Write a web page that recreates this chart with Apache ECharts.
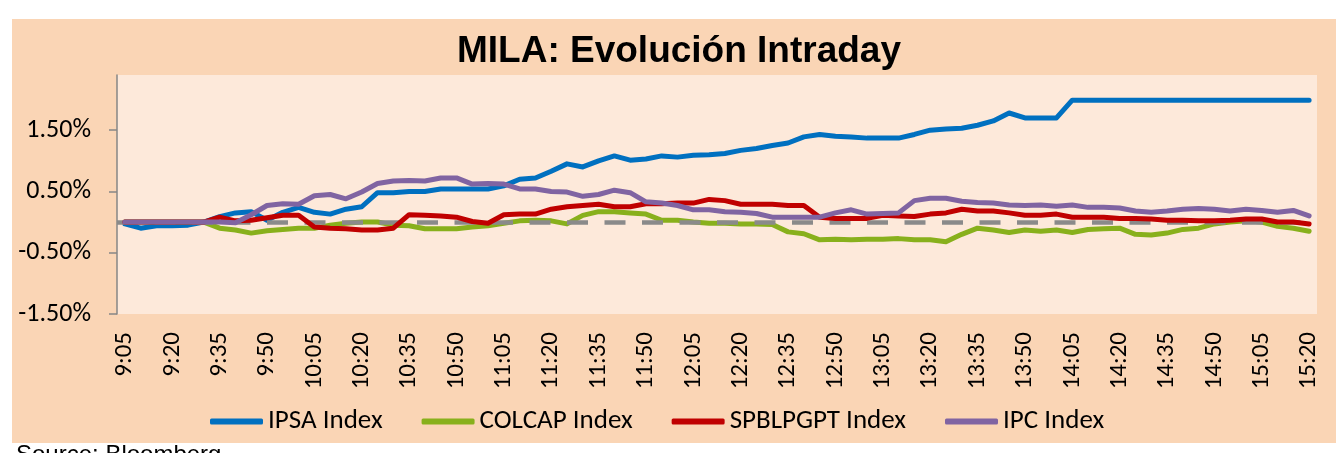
<!DOCTYPE html>
<html><head><meta charset="utf-8">
<script src="https://cdn.jsdelivr.net/npm/echarts@6/dist/echarts.min.js"></script>
<style>html,body{margin:0;padding:0;background:#fff}#c{width:1336px;height:453px}</style>
</head><body><div id="c"></div>
<script>
const categories = ["9:05","9:10","9:15","9:20","9:25","9:30","9:35","9:40","9:45","9:50","9:55",
"10:00","10:05","10:10","10:15","10:20","10:25","10:30","10:35","10:40","10:45","10:50","10:55",
"11:00","11:05","11:10","11:15","11:20","11:25","11:30","11:35","11:40","11:45","11:50","11:55",
"12:00","12:05","12:10","12:15","12:20","12:25","12:30","12:35","12:40","12:45","12:50","12:55",
"13:00","13:05","13:10","13:15","13:20","13:25","13:30","13:35","13:40","13:45","13:50","13:55",
"14:00","14:05","14:10","14:15","14:20","14:25","14:30","14:35","14:40","14:45","14:50","14:55",
"15:00","15:05","15:10","15:15","15:20"];
const ipsa = [-0.03,-0.1,-0.06,-0.06,-0.05,0,0.09,0.15,0.17,0.03,0.16,0.24,0.16,0.13,0.21,0.25,0.48,0.48,0.5,0.5,0.54,0.54,0.54,0.54,0.59,0.7,0.72,0.83,0.95,0.9,1.0,1.08,1.01,1.03,1.08,1.06,1.09,1.1,1.12,1.17,1.2,1.25,1.29,1.39,1.43,1.4,1.39,1.37,1.37,1.37,1.43,1.5,1.52,1.53,1.58,1.65,1.78,1.7,1.7,1.7,1.99,1.99,1.99,1.99,1.99,1.99,1.99,1.99,1.99,1.99,1.99,1.99,1.99,1.99,1.99,1.99];
const colcap = [0,0,0,0,0,0,-0.1,-0.13,-0.18,-0.14,-0.12,-0.1,-0.1,-0.05,-0.02,0,0,-0.05,-0.06,-0.11,-0.11,-0.11,-0.08,-0.06,-0.02,0.02,0.03,0.02,-0.03,0.11,0.17,0.17,0.15,0.13,0.03,0.03,0,-0.02,-0.02,-0.03,-0.03,-0.04,-0.16,-0.19,-0.29,-0.28,-0.29,-0.28,-0.28,-0.27,-0.29,-0.29,-0.32,-0.2,-0.1,-0.13,-0.17,-0.13,-0.15,-0.13,-0.17,-0.12,-0.11,-0.1,-0.2,-0.21,-0.18,-0.12,-0.1,-0.03,0,0.02,0,-0.07,-0.1,-0.15];
const spblpgpt = [0,0,0,0,0,0,0.08,0.02,0.03,0.07,0.11,0.11,-0.08,-0.1,-0.11,-0.13,-0.13,-0.1,0.12,0.11,0.1,0.08,0.01,-0.02,0.12,0.13,0.13,0.21,0.25,0.27,0.29,0.25,0.25,0.3,0.3,0.31,0.31,0.37,0.35,0.29,0.29,0.29,0.27,0.27,0.08,0.06,0.06,0.06,0.11,0.1,0.09,0.13,0.15,0.21,0.18,0.18,0.15,0.11,0.11,0.13,0.08,0.08,0.08,0.06,0.06,0.05,0.03,0.03,0.02,0.02,0.03,0.05,0.05,0,0,-0.03];
const ipc = [0,0,0,0,0,0,0,-0.01,0.12,0.27,0.3,0.29,0.43,0.45,0.38,0.49,0.63,0.67,0.68,0.67,0.72,0.72,0.62,0.63,0.62,0.54,0.54,0.5,0.49,0.42,0.45,0.52,0.48,0.33,0.31,0.27,0.2,0.2,0.17,0.16,0.14,0.08,0.08,0.08,0.08,0.15,0.2,0.13,0.14,0.15,0.35,0.39,0.39,0.34,0.32,0.31,0.28,0.27,0.28,0.26,0.28,0.24,0.24,0.23,0.18,0.16,0.18,0.21,0.22,0.21,0.18,0.21,0.19,0.16,0.19,0.1];
const yTicks = [-1.5,-0.5,0.5,1.5];
const seriesNames = ["IPSA Index","COLCAP Index","SPBLPGPT Index","IPC Index"];
const seriesColors = ["#0070C0","#88B01C","#C00000","#8064A2"];
const seriesData = [ipsa, colcap, spblpgpt, ipc];

const FONT = "Carlito, Lato, 'Open Sans', sans-serif";
const chart = echarts.init(document.getElementById('c'), null, {renderer:'canvas'});
const lineSeries = seriesNames.map((n,i)=>({
  name:n, type:'line', data:seriesData[i], showSymbol:false, symbol:'none', smooth:false,
  lineStyle:{color:seriesColors[i], width:5, cap:'round', join:'round'},
  itemStyle:{color:seriesColors[i]}, z:3+i, silent:true
}));
chart.setOption({
  animation:false,
  backgroundColor:'#ffffff',
  graphic:[
    {type:'rect', left:12, top:19, shape:{width:1324, height:424}, style:{fill:'#FAD5B5'}, z:-10},
    {type:'text', left:16, top:443, style:{text:'Source: Bloomberg', font:"24px 'Liberation Sans', Arial, sans-serif", fill:'#000'}, z:10}
  ],
  title:{text:'MILA: Evolución Intraday', left:674, top:28, textAlign:'center',
    textStyle:{fontFamily:"'Liberation Sans', Arial, sans-serif", fontWeight:'bold', fontSize:37, color:'#000'}},
  legend:{data:seriesNames, left:205, top:403, itemWidth:53, itemHeight:6, itemGap:39, icon:'roundRect',
    textStyle:{fontFamily:FONT, fontSize:27, color:'#000'}},
  grid:{left:117, right:19, top:75, bottom:139, show:true, backgroundColor:'#FDE9DA', borderWidth:0, containLabel:false, outerBoundsMode:'none'},
  xAxis:{type:'category', data:categories, boundaryGap:true,
    axisLine:{show:false}, axisTick:{show:false},
    axisLabel:{interval:2, rotate:90, margin:18, fontFamily:FONT, fontSize:25, color:'#000'}},
  yAxis:{type:'value', min:-1.5, max:2.4, interval:1,
    axisLine:{show:true, lineStyle:{color:'#868686', width:1.5}},
    axisTick:{show:true, inside:false, length:8, lineStyle:{color:'#868686', width:1.5}, customValues:yTicks},
    splitLine:{show:false},
    axisLabel:{customValues:yTicks, margin:26, fontFamily:FONT, fontSize:26, color:'#000',
      formatter:v=>v.toFixed(2)+'%'}},
  series:[{name:'zero', type:'line', data:[], silent:true, z:2,
      markLine:{silent:true, symbol:['none','none'], label:{show:false},
        lineStyle:{color:'#8A8A8A', width:4.5, type:[21,16.5]}, data:[{yAxis:0}]}}].concat(lineSeries)
});
</script></body></html>
